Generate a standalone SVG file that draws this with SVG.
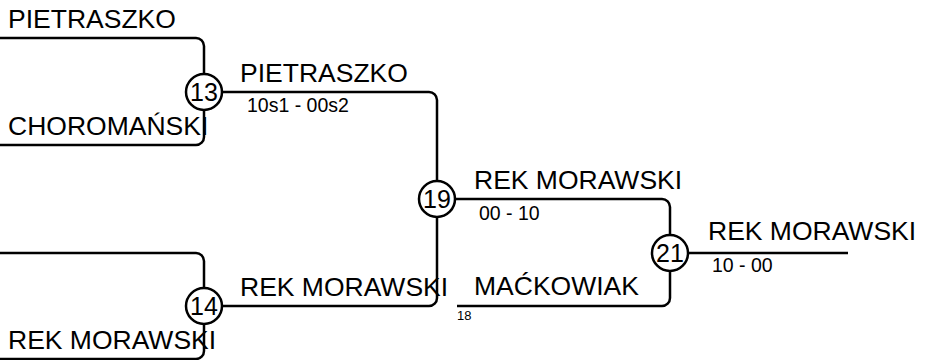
<svg xmlns="http://www.w3.org/2000/svg" width="937" height="360" viewBox="0 0 937 360">
<style>
.ln{fill:none;stroke:#000;stroke-width:2.5}
.c{fill:#fff;stroke:#000;stroke-width:2.5}
.nm{font-family:"Liberation Sans",Arial,sans-serif;font-size:26.5px;fill:#000}
.sc{font-family:"Liberation Sans",Arial,sans-serif;font-size:19.5px;fill:#000}
.sm{font-family:"Liberation Sans",Arial,sans-serif;font-size:13px;fill:#000}
.num{font-family:"Liberation Sans",Arial,sans-serif;font-size:25px;fill:#000;text-anchor:middle}
</style>
<rect width="937" height="360" fill="#fff"/>
<g id="connectors">
<path class="ln" d="M0,38 H196 A8,8 0 0 1 204,46 V74"/>
<path class="ln" d="M0,145 H196 A8,8 0 0 0 204,137 V110"/>
<path class="ln" d="M0,253 H196 A8,8 0 0 1 204,261 V288"/>
<path class="ln" d="M0,359 H196 A8,8 0 0 0 204,351 V324"/>
<path class="ln" d="M222,92 H429 A8,8 0 0 1 437,100 V181"/>
<path class="ln" d="M222,306 H429 A8,8 0 0 0 437,298 V217"/>
<path class="ln" d="M455,199 H662 A8,8 0 0 1 670,207 V235"/>
<path class="ln" d="M457,306 H662 A8,8 0 0 0 670,298 V271"/>
<path class="ln" d="M688,253 H848"/>
</g>
<g id="labels">
<text class="nm" x="8" y="28">PIETRASZKO</text>
<text class="nm" x="8" y="135">CHOROMAŃSKI</text>
<text class="nm" x="8" y="349">REK MORAWSKI</text>
<text class="nm" x="240" y="82">PIETRASZKO</text>
<text class="sc" x="247" y="112">10s1 - 00s2</text>
<text class="nm" x="240" y="296">REK MORAWSKI</text>
<text class="nm" x="474" y="189">REK MORAWSKI</text>
<text class="sc" x="479" y="220">00 - 10</text>
<text class="nm" x="474" y="295">MAĆKOWIAK</text>
<text class="sm" x="457" y="320">18</text>
<text class="nm" x="708" y="240">REK MORAWSKI</text>
<text class="sc" x="712" y="272">10 - 00</text>
</g>
<g id="node13"><circle class="c" cx="204" cy="92" r="18"/><text class="num" x="204" y="100.5">13</text></g>
<g id="node14"><circle class="c" cx="204" cy="306" r="18"/><text class="num" x="204" y="314.5">14</text></g>
<g id="node19"><circle class="c" cx="437" cy="199" r="18"/><text class="num" x="437" y="207.5">19</text></g>
<g id="node21"><circle class="c" cx="670" cy="253" r="18"/><text class="num" x="670" y="261.5">21</text></g>
</svg>
